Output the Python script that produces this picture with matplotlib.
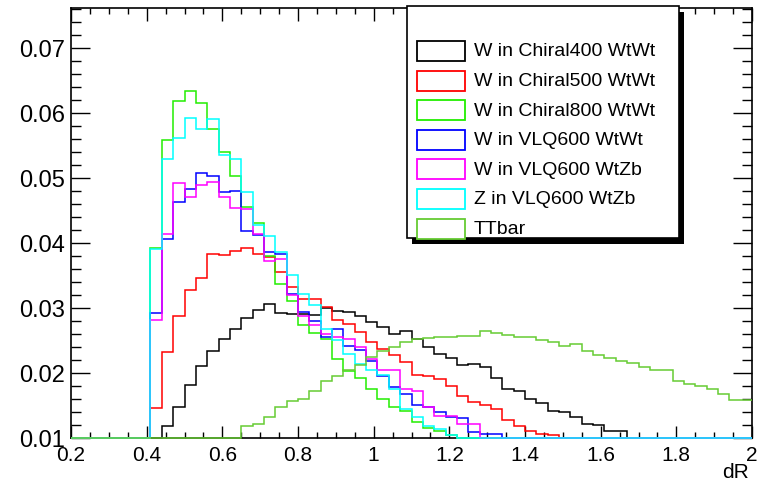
import numpy as np
import matplotlib
matplotlib.use("Agg")
import matplotlib.pyplot as plt
from matplotlib.patches import Rectangle
from matplotlib.ticker import MultipleLocator, FixedLocator

plt.rcParams['font.family'] = ['Liberation Sans', 'DejaVu Sans']

# histogram binning (dR from 0.2 to 2.0, 60 bins)
dr_lo, dr_hi, n_bins = 0.2, 2.0, 60
edges = np.linspace(dr_lo, dr_hi, n_bins + 1)

# bin contents (values below 0.01 are hidden under the axis)
chiral400 = [0, 0, 0, 0, 0, 0, 0, 0.006, 0.0119, 0.0147,
             0.0182, 0.0210, 0.0234, 0.0252, 0.0268, 0.0285, 0.0297, 0.0306, 0.0292, 0.0291,
             0.0291, 0.0289, 0.0300, 0.0296, 0.0294, 0.0287, 0.0278, 0.0270, 0.0260, 0.0264,
             0.0252, 0.0240, 0.0229, 0.0223, 0.0212, 0.0214, 0.0209, 0.0193, 0.0175, 0.0173,
             0.0160, 0.0154, 0.0142, 0.0140, 0.0133, 0.0122, 0.0120, 0.0111, 0.0111, 0.0085,
             0.007, 0.006, 0.005, 0.004, 0.004, 0.003, 0.003, 0.002, 0.002, 0.002]
chiral500 = [0, 0, 0, 0, 0, 0, 0, 0.0146, 0.0232, 0.0288,
             0.0327, 0.0346, 0.0383, 0.0382, 0.0388, 0.0392, 0.0383, 0.0378, 0.0356, 0.0332,
             0.0314, 0.0314, 0.0301, 0.0281, 0.0275, 0.0263, 0.0247, 0.0237, 0.0227, 0.0217,
             0.0197, 0.0195, 0.0191, 0.0180, 0.0165, 0.0155, 0.0150, 0.0145, 0.0127, 0.0119,
             0.0111, 0.0106, 0.0104, 0.0085, 0.007, 0.006, 0.005, 0.004, 0.003, 0.003,
             0.002, 0.002, 0.002, 0.001, 0.001, 0.001, 0.001, 0.001, 0, 0]
chiral800 = [0, 0, 0, 0, 0, 0, 0, 0.0393, 0.0559, 0.0618,
             0.0634, 0.0615, 0.0575, 0.0540, 0.0503, 0.0456, 0.0430, 0.0380, 0.0337, 0.0311,
             0.0274, 0.0262, 0.0252, 0.0222, 0.0203, 0.0193, 0.0175, 0.0160, 0.0147, 0.0142,
             0.0124, 0.0116, 0.0111, 0.0104, 0.008, 0.006, 0.005, 0.004, 0.003, 0.002,
             0.002, 0.001, 0.001, 0.001, 0.001, 0, 0, 0, 0, 0,
             0, 0, 0, 0, 0, 0, 0, 0, 0, 0]
vlq_wtwt = [0, 0, 0, 0, 0, 0, 0, 0.0292, 0.0406, 0.0463,
            0.0483, 0.0507, 0.0503, 0.0478, 0.0480, 0.0419, 0.0412, 0.0386, 0.0383, 0.0322,
            0.0294, 0.0280, 0.0255, 0.0268, 0.0242, 0.0235, 0.0219, 0.0195, 0.0178, 0.0168,
            0.0151, 0.0147, 0.0140, 0.0132, 0.0130, 0.0109, 0.0106, 0.0106, 0.007, 0.005,
            0.004, 0.003, 0.002, 0.002, 0.001, 0.001, 0.001, 0, 0, 0,
            0, 0, 0, 0, 0, 0, 0, 0, 0, 0]
vlq_wtzb_w = [0, 0, 0, 0, 0, 0, 0, 0.0282, 0.0414, 0.0492,
              0.0470, 0.0489, 0.0494, 0.0470, 0.0454, 0.0452, 0.0414, 0.0373, 0.0375, 0.0320,
              0.0288, 0.0274, 0.0260, 0.0255, 0.0253, 0.0240, 0.0222, 0.0204, 0.0204, 0.0175,
              0.0172, 0.0147, 0.0134, 0.0134, 0.0122, 0.0122, 0.008, 0.006, 0.005, 0.004,
              0.003, 0.002, 0.002, 0.001, 0.001, 0, 0, 0, 0, 0,
              0, 0, 0, 0, 0, 0, 0, 0, 0, 0]
vlq_wtzb_z = [0, 0, 0, 0, 0, 0, 0, 0.0391, 0.0529, 0.0562,
              0.0593, 0.0575, 0.0591, 0.0535, 0.0529, 0.0478, 0.0427, 0.0411, 0.0386, 0.0351,
              0.0321, 0.0305, 0.0268, 0.0250, 0.0229, 0.0214, 0.0205, 0.0197, 0.0175, 0.0145,
              0.0132, 0.0118, 0.0114, 0.0104, 0.007, 0.005, 0.004, 0.003, 0.002, 0.002,
              0.001, 0.001, 0, 0, 0, 0, 0, 0, 0, 0,
              0, 0, 0, 0, 0, 0, 0, 0, 0, 0]
ttbar = [0.0002, 0.0004, 0.0007, 0.0010, 0.0014, 0.0019, 0.0025, 0.0031, 0.0038, 0.0045,
         0.0053, 0.0061, 0.0070, 0.0080, 0.0092, 0.0119, 0.0122, 0.0132, 0.0147, 0.0157,
         0.0160, 0.0173, 0.0188, 0.0196, 0.0205, 0.0212, 0.0225, 0.0234, 0.0240, 0.0247,
         0.0253, 0.0254, 0.0255, 0.0256, 0.0257, 0.0257, 0.0265, 0.0262, 0.0258, 0.0256,
         0.0256, 0.0251, 0.0248, 0.0242, 0.0245, 0.0234, 0.0227, 0.0223, 0.0219, 0.0216,
         0.0209, 0.0204, 0.0204, 0.0188, 0.0183, 0.0180, 0.0176, 0.0168, 0.0159, 0.0159]

series = [chiral400, chiral500, chiral800, vlq_wtwt, vlq_wtzb_w, vlq_wtzb_z, ttbar]
labels = ["W in Chiral400 WtWt", "W in Chiral500 WtWt", "W in Chiral800 WtWt",
          "W in VLQ600 WtWt", "W in VLQ600 WtZb", "Z in VLQ600 WtZb", "TTbar"]
colors = ["#000000", "#ff0000", "#22ee00", "#0000ff", "#ff00ff", "#00ffff", "#66cc33"]

y_min, y_max = 0.01, 0.07615

W, H = 763, 485
fig = plt.figure(figsize=(W / 100, H / 100), dpi=100)
ax = fig.add_axes([71 / W, 46 / H, 681 / W, 430 / H])

for vals, col in zip(series, colors):
    # ROOT draws under-range bins along the frame bottom
    shown = np.clip(np.asarray(vals, dtype=float), y_min, None)
    ax.stairs(shown, edges, baseline=None, color=col, lw=1.1, zorder=3, clip_on=False)

ax.set_xlim(dr_lo, dr_hi)
ax.set_ylim(y_min, y_max)

xt = np.round(np.arange(0.2, 2.01, 0.2), 1)
ax.xaxis.set_major_locator(FixedLocator(xt))
ax.set_xticklabels(["%g" % v for v in xt], fontsize=15)
ax.xaxis.set_minor_locator(MultipleLocator(0.05))
yt = np.round(np.arange(0.01, 0.0701, 0.01), 2)
ax.yaxis.set_major_locator(FixedLocator(yt))
ax.set_yticklabels(["%g" % v for v in yt], fontsize=17)
ax.yaxis.set_minor_locator(MultipleLocator(0.002))

ax.tick_params(axis='both', which='both', direction='in', top=True, right=True, width=1.0)
ax.tick_params(axis='y', which='major', length=14, pad=4)
ax.tick_params(axis='y', which='minor', length=7)
ax.tick_params(axis='x', which='major', length=9, pad=5)
ax.tick_params(axis='x', which='minor', length=4.5)
for sp in ax.spines.values():
    sp.set_linewidth(1.2)

ax.set_xlabel("dR", fontsize=15)
ax.xaxis.set_label_coords(0.995, -0.055)
ax.xaxis.label.set_horizontalalignment('right')

# legend box with ROOT-like drop shadow
lx0, lx1, ly0, ly1 = 407, 679, 7, 239
fig.add_artist(Rectangle(((lx0 + 5) / W, 1 - (ly1 + 6) / H), (lx1 - lx0) / W, (ly1 - ly0) / H,
                         transform=fig.transFigure, fc='black', ec='black', lw=0, zorder=9))
fig.add_artist(Rectangle((lx0 / W, 1 - ly1 / H), (lx1 - lx0) / W, (ly1 - ly0) / H,
                         transform=fig.transFigure, fc='white', ec='black', lw=1.2, zorder=10))
for i, (lab, col) in enumerate(zip(labels, colors)):
    yc = 52 + 29.6 * i
    fig.add_artist(Rectangle((417 / W, 1 - (yc + 10) / H), 48 / W, 20 / H,
                             transform=fig.transFigure, fc='white', ec=col, lw=1.3, zorder=11))
    fig.text(474 / W, 1 - yc / H, lab, fontsize=14, va='center', ha='left', zorder=11)

fig.savefig("out.png", dpi=100)
